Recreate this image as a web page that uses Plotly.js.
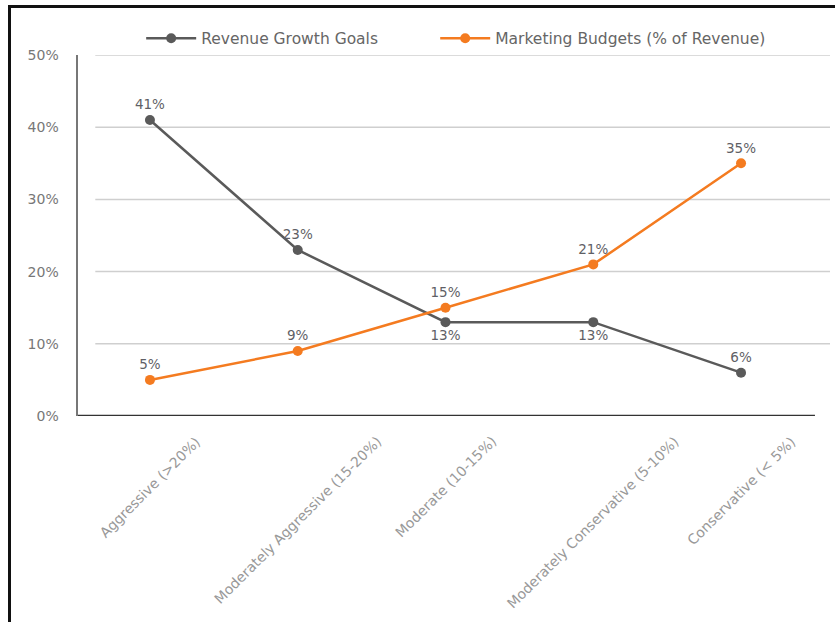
<!DOCTYPE html>
<html><head><meta charset="utf-8">
<script src="https://cdn.plot.ly/plotly-3.0.1.min.js"></script>
<style>
html,body{margin:0;padding:0;background:#fff;}
#wrap{position:relative;width:835px;height:622px;overflow:hidden;}
#chart{position:absolute;left:0;top:0;width:835px;height:622px;}
#frame{position:absolute;left:8px;top:5px;width:840px;height:640px;border-top:3px solid #111;border-left:3px solid #111;pointer-events:none;}
</style></head>
<body>
<div id="wrap"><div id="chart"></div><div id="frame"></div></div>
<script>
const categories = ["Aggressive (>20%)", "Moderately Aggressive (15-20%)", "Moderate (10-15%)", "Moderately Conservative (5-10%)", "Conservative (< 5%)"];
const revenueGrowth = [41, 23, 13, 13, 6];
const marketingBudget = [5, 9, 15, 21, 35];
const yTicks = [0, 10, 20, 30, 40, 50];
const yTickLabels = ["0%", "10%", "20%", "30%", "40%", "50%"];
const seriesNames = ["Revenue Growth Goals", "Marketing Budgets (% of Revenue)"];

const FONT = "'DejaVu Sans', Verdana, sans-serif";
const labelFont = {family: FONT, size: 13.5, color: "#5f5f66"};

const traces = [
  {
    x: categories, y: revenueGrowth, name: seriesNames[0], type: "scatter", mode: "lines+markers+text",
    line: {color: "#5a5a5a", width: 2.5}, marker: {color: "#5a5a5a", size: 10},
    text: revenueGrowth.map(v => v + "%"),
    textposition: ["top center", "top center", "bottom center", "bottom center", "top center"],
    textfont: labelFont, cliponaxis: false, legend: "legend"
  },
  {
    x: categories, y: marketingBudget, name: seriesNames[1], type: "scatter", mode: "lines+markers+text",
    line: {color: "#f47b20", width: 2.5}, marker: {color: "#f47b20", size: 10},
    text: marketingBudget.map(v => v + "%"),
    textposition: "top center",
    textfont: labelFont, cliponaxis: false, legend: "legend2"
  }
];

// category labels: rotated, centred under each category
const catAnnotations = categories.map(c => ({
  x: c, xref: "x", y: -0.04, yref: "paper",
  text: c, showarrow: false, textangle: -45,
  xanchor: "center", yanchor: "top",
  font: {family: FONT, size: 14, color: "#999"}
}));

// horizontal gridlines (start a little right of the y axis, as in the source)
const gridShapes = yTicks.filter(v => v > 0).map(v => ({
  type: "line", xref: "paper", yref: "y", x0: 0.023, x1: 1, y0: v, y1: v,
  line: {color: "#cfcfcf", width: 1.5}, layer: "below"
}));
const xAxisLine = {type: "line", xref: "paper", yref: "y", x0: 0, x1: 0.98, y0: 0, y1: 0,
  line: {color: "#333", width: 2.5}};

const legendBase = {orientation: "h", xanchor: "left", y: 0.998, yanchor: "bottom",
  font: {family: FONT, size: 15.5, color: "#666"}, itemwidth: 50, bgcolor: "rgba(0,0,0,0)"};

const layout = {
  width: 835, height: 622,
  margin: {l: 78, r: 5, t: 55, b: 205.5, autoexpand: false},
  paper_bgcolor: "#fff", plot_bgcolor: "#fff",
  showlegend: true,
  legend: Object.assign({}, legendBase, {x: 0.084}),
  legend2: Object.assign({}, legendBase, {x: 0.475}),
  xaxis: {
    type: "category", range: [-0.487, 4.602],
    showticklabels: false, showline: false, showgrid: false, zeroline: false, ticks: ""
  },
  yaxis: {
    range: [0, 50], tickvals: yTicks, ticktext: yTickLabels,
    tickfont: {family: FONT, size: 14, color: "#777"},
    showline: true, linecolor: "#777", linewidth: 2.5, showgrid: false,
    zeroline: false, ticks: "", ticklabelstandoff: 14
  },
  shapes: gridShapes.concat([xAxisLine]),
  annotations: catAnnotations,
  font: {family: FONT}
};

Plotly.newPlot("chart", traces, layout, {displayModeBar: false, staticPlot: true});
</script>
</body></html>
